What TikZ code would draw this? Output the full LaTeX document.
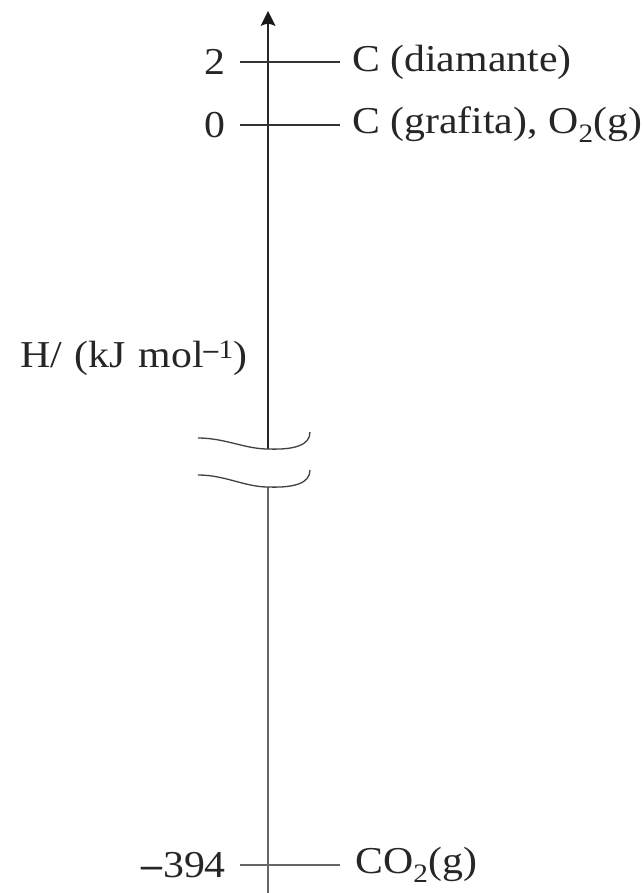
\documentclass[tikz,border=0pt]{standalone}
\usepackage{fontspec}
\setmainfont[FakeStretch=1.1]{Liberation Serif}
\usetikzlibrary{arrows.meta}
\begin{document}
\begin{tikzpicture}[x=1pt,y=-1pt,
  lbl/.style={font=\fontsize{38}{44}\selectfont, inner sep=0pt, text=black!85},
  tick/.style={line width=1.4pt, draw=black!80},
  axisline/.style={line width=1.6pt, draw=black!85},
  brk/.style={line width=1.3pt, draw=black!75},
  head/.style={fill=black!90, draw=none}]
\useasboundingbox (0,0) rectangle (644,893);
% axis
\coordinate (top) at (268,11);
\coordinate (neck) at (268,24);
\coordinate (b1) at (268,449);
\coordinate (b2) at (268,487);
\coordinate (bot) at (268,893);
\draw[axisline] (b1) -- (neck);
\fill[head] (top) -- ([xshift=-7.5pt,yshift=-15pt]top) .. controls ([yshift=-12pt]top) .. ([xshift=7.5pt,yshift=-15pt]top) -- cycle;
\draw[axisline,draw=black!60,line width=1.3pt] (b2) -- (bot);
% break marks
\draw[brk] (198,438) .. controls (225,438) and (245,449) .. (268,449) .. controls (295,450) and (310,445) .. (310,432);
\draw[brk] (198,475) .. controls (225,475) and (245,487) .. (268,487) .. controls (295,488) and (310,483) .. (310,470);
% ticks
\coordinate (t2a) at (240,62); \coordinate (t2b) at (340,62);
\coordinate (t0a) at (240,125); \coordinate (t0b) at (340,125);
\coordinate (tma) at (240,865); \coordinate (tmb) at (340,865);
\draw[tick] (t2a) -- (t2b);
\draw[tick] (t0a) -- (t0b);
\draw[tick,draw=black!60] (tma) -- (tmb);
% labels
\node[lbl,anchor=east] (n2) at (226,62) {2};
\node[lbl,anchor=east] (n0) at (226,125) {0};
\node[lbl,anchor=east] (nm) at (226,865) {\textbf{–}394};
\node[lbl,anchor=west] (d) at (352,62) {C (diamante)};
\node[lbl,anchor=west] (g) at (352,125) {C (grafita), O\textsubscript{2}(g)};
\node[lbl,anchor=west] (c) at (355,865) {CO\textsubscript{2}(g)};
\node[lbl] (h) at (134,358) {H/\,\,(kJ\,\,mol\textsuperscript{\textbf{–}1})};
\end{tikzpicture}
\end{document}
